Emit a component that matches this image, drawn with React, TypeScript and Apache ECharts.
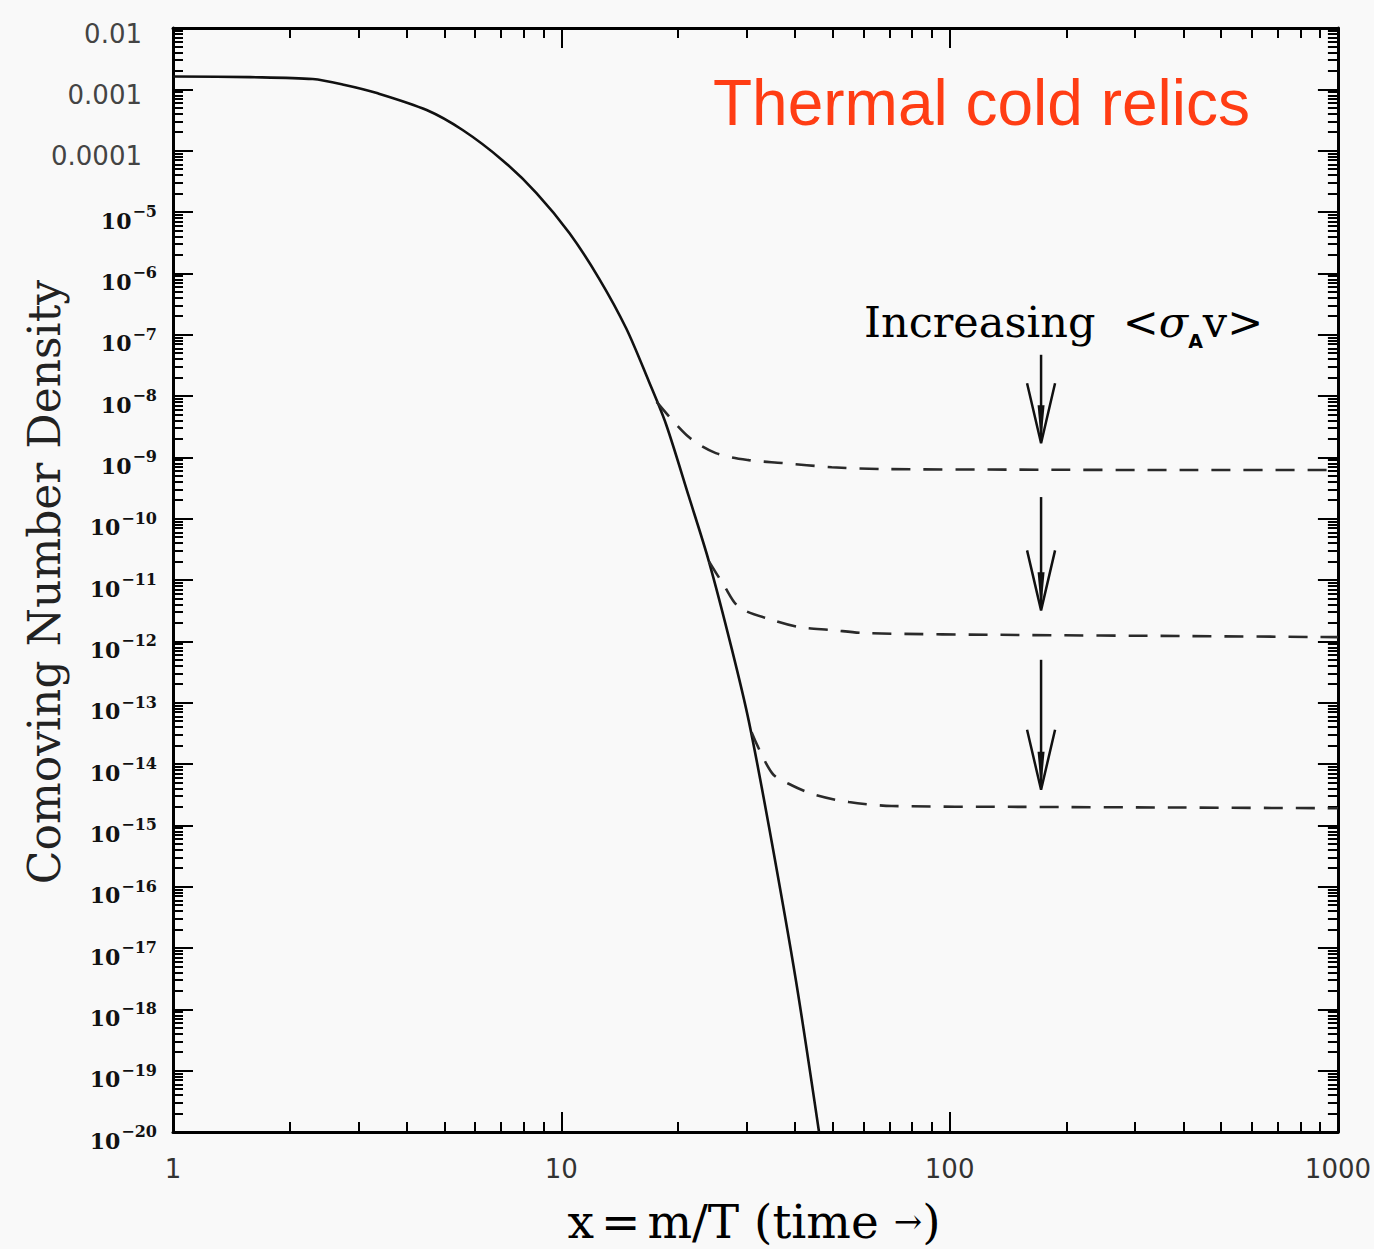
import React, { useEffect, useRef } from "react";
import * as echarts from "echarts";

// ---- axis ticks / labels ----
const xTickValues = [1, 10, 100, 1000];
const xTickLabels = ["1", "10", "100", "1000"];
const yExponents = [-2, -3, -4, -5, -6, -7, -8, -9, -10, -11, -12, -13, -14, -15, -16, -17, -18, -19, -20];
const ySansLabels = ["0.01", "0.001", "0.0001"]; // for exponents -2, -3, -4

// ---- equilibrium (solid) curve ----
const solidX = [1, 1.58, 2.29, 2.77, 3.35, 4.5, 5.57, 7.05, 8.63, 10.5, 12.5, 14.7, 16.8, 18.6, 21.3, 24.0, 27.5, 30.4, 34.3, 40.2, 46.1];
const solidY = [1.62e-3, 1.58e-3, 1.47e-3, 1.18e-3, 8.7e-4, 4.6e-4, 2.17e-4, 7.0e-5, 2.04e-5, 4.5e-6, 8.3e-7, 1.26e-7, 1.74e-8, 3.5e-9, 2.3e-10, 2.0e-11, 7.4e-13, 5.0e-14, 9.1e-16, 2.95e-18, 1e-20];

// ---- freeze-out (dashed) curves ----
const dash1X = [17.6, 21.3, 25.0, 30.4, 37.0, 49.7, 66.9, 150, 400, 1000];
const dash1Y = [8e-9, 2.14e-9, 1.17e-9, 9.0e-10, 8.1e-10, 6.9e-10, 6.45e-10, 6.3e-10, 6.2e-10, 6.2e-10];
const dash2X = [24.0, 26.2, 28.7, 34.9, 40.9, 49.7, 60.8, 150, 400, 1000];
const dash2Y = [2.0e-11, 8.3e-12, 3.6e-12, 2.23e-12, 1.71e-12, 1.53e-12, 1.36e-12, 1.27e-12, 1.22e-12, 1.17e-12];
const dash3X = [30.9, 34.9, 39.2, 45.3, 55.0, 71.0, 150, 400, 1000];
const dash3Y = [3.3e-14, 7.1e-15, 4.5e-15, 3.1e-15, 2.4e-15, 2.07e-15, 2.0e-15, 1.95e-15, 1.9e-15];

// ---- arrows (x, shaft top, tip) ----
const arrowX = [172, 172, 172];
const arrowTop = [4.7e-8, 2.25e-10, 5.0e-13];
const arrowTip = [1.7e-9, 3.2e-12, 3.8e-15];

const zip = (xs: number[], ys: number[]) => xs.map((x, i) => [x, ys[i]]);

export default function App() {
  const ref = useRef<HTMLDivElement>(null);
  useEffect(() => {
    document.body.style.margin = "0";
    const chart = echarts.init(ref.current!, null, { renderer: "svg" });
    const axisLine = { show: true, lineStyle: { color: "#000", width: 3 } };
    const tick = { show: true, inside: true, length: 20, lineStyle: { color: "#000", width: 2 } };
    const minorTick = { show: true, splitNumber: 9, length: 10, lineStyle: { color: "#000", width: 2 } };
    const xBase = {
      type: "log",
      logBase: 10,
      min: 1,
      max: 1000,
      interval: 1,
      axisLine,
      axisTick: tick,
      minorTick,
      splitLine: { show: false },
      minorSplitLine: { show: false },
    };
    const yBase = {
      type: "log",
      logBase: 10,
      min: 1e-20,
      max: 1e-2,
      interval: 1,
      axisLine,
      axisTick: tick,
      minorTick,
      splitLine: { show: false },
      minorSplitLine: { show: false },
    };
    const lineCommon = { type: "line", symbol: "none", smooth: 0.3, silent: true, z: 3 };
    const dashStyle = { color: "#2a2a2a", width: 2.6, type: [19, 13] };

    chart.setOption({
      animation: false,
      backgroundColor: "#f9f9f9",
      grid: { left: 173, right: 34, top: 28, bottom: 117 },
      xAxis: [
        {
          ...xBase,
          position: "bottom",
          axisLabel: {
            show: true,
            margin: 24,
            fontFamily: "DejaVu Sans",
            fontSize: 26,
            color: "#333",
            formatter: (v: number) => {
              const i = xTickValues.findIndex((t) => Math.abs(Math.log10(t) - Math.log10(v)) < 1e-6);
              return i >= 0 ? xTickLabels[i] : "";
            },
          },
        },
        { ...xBase, position: "top", axisLabel: { show: false } },
      ],
      yAxis: [
        {
          ...yBase,
          position: "left",
          axisLabel: {
            show: true,
            margin: 16,
            padding: [11, 0, 0, 0],
            formatter: (v: number) => {
              const e = Math.round(Math.log10(v));
              const idx = yExponents.indexOf(e);
              if (idx < 0) return "";
              if (idx < ySansLabels.length) return `{s|${ySansLabels[idx]}}`;
              return `{b|10}{p|−${-e}}`;
            },
            rich: {
              s: { fontFamily: "DejaVu Sans", fontSize: 26, color: "#444", padding: [0, 15, 0, 0], lineHeight: 28 },
              b: { fontFamily: "DejaVu Serif", fontWeight: "bold", fontSize: 22, color: "#111", lineHeight: 28, verticalAlign: "bottom" },
              p: { fontFamily: "DejaVu Serif", fontWeight: "bold", fontSize: 16, color: "#111", lineHeight: 16, verticalAlign: "top", padding: [0, 0, 0, 1] },
            },
          },
        },
        { ...yBase, position: "right", axisLabel: { show: false } },
      ],
      series: [
        { ...lineCommon, name: "equilibrium", data: zip(solidX, solidY), lineStyle: { color: "#111", width: 2.6 } },
        { ...lineCommon, name: "freeze-out 1", data: zip(dash1X, dash1Y), lineStyle: dashStyle },
        { ...lineCommon, name: "freeze-out 2", data: zip(dash2X, dash2Y), lineStyle: dashStyle },
        { ...lineCommon, name: "freeze-out 3", data: zip(dash3X, dash3Y), lineStyle: dashStyle },
        {
          type: "custom",
          name: "arrows",
          clip: false,
          silent: true,
          z: 4,
          encode: { x: 0, y: [1, 2] },
          data: arrowX.map((x, i) => [x, arrowTop[i], arrowTip[i]]),
          renderItem: (_p: any, api: any) => {
            const top = api.coord([api.value(0), api.value(1)]);
            const tip = api.coord([api.value(0), api.value(2)]);
            return {
              type: "group",
              children: [
                { type: "line", shape: { x1: top[0], y1: top[1], x2: tip[0], y2: tip[1] - 4 }, style: { stroke: "#111", lineWidth: 2.5 } },
                {
                  type: "polyline",
                  shape: { points: [[tip[0] - 14, tip[1] - 60], [tip[0], tip[1]], [tip[0] + 14, tip[1] - 60]] },
                  style: { stroke: "#111", lineWidth: 2.5, fill: null },
                },
                {
                  type: "polygon",
                  shape: { points: [[tip[0] - 3.5, tip[1] - 38], [tip[0], tip[1]], [tip[0] + 3.5, tip[1] - 38]] },
                  style: { fill: "#111" },
                },
              ],
            };
          },
        },
      ],
      graphic: [
        {
          type: "text",
          x: 713,
          y: 103,
          style: {
            text: "Thermal cold relics",
            font: '64px "Liberation Sans"',
            fill: "#ff3d14",
            align: "left",
            verticalAlign: "middle",
            textAlign: "left",
            textVerticalAlign: "middle",
          },
        },
        {
          type: "text",
          x: 864,
          y: 322,
          style: {
            text: "{n|Increasing  <}{g|σ}{sub|A}{n|v>}",
            align: "left",
            verticalAlign: "middle",
            textAlign: "left",
            textVerticalAlign: "middle",
            rich: {
              n: { fontFamily: "DejaVu Serif", fontSize: 43, color: "#1a1a1a", lineHeight: 56 },
              g: { fontFamily: "DejaVu Serif", fontStyle: "italic", fontSize: 43, color: "#1a1a1a", lineHeight: 56 },
              sub: { fontFamily: "DejaVu Sans", fontWeight: "bold", fontSize: 19, color: "#1a1a1a", lineHeight: 16, verticalAlign: "bottom" },
            },
          },
        },
        {
          type: "text",
          x: 44,
          y: 582,
          rotation: Math.PI / 2,
          style: {
            text: "Comoving Number Density",
            font: '44px "DejaVu Serif"',
            fill: "#222",
            align: "center",
            verticalAlign: "middle",
            textAlign: "center",
            textVerticalAlign: "middle",
          },
        },
        {
          type: "text",
          x: 754,
          y: 1221,
          style: {
            text: "{t|x}{e|=}{t|m/T (time }{a|→}{t|)}",
            align: "center",
            verticalAlign: "middle",
            textAlign: "center",
            textVerticalAlign: "middle",
            rich: {
              t: { fontFamily: "DejaVu Serif", fontSize: 47, color: "#222", lineHeight: 44 },
              e: { fontFamily: "DejaVu Serif", fontSize: 47, color: "#222", lineHeight: 44, padding: [0, 7, 0, 7] },
              a: { fontFamily: "DejaVu Serif", fontSize: 34, color: "#222", lineHeight: 44 },
            },
          },
        },
      ],
    });
    return () => chart.dispose();
  }, []);
  return <div ref={ref} style={{ width: 1374, height: 1249, position: "absolute", left: 0, top: 0 }} />;
}
